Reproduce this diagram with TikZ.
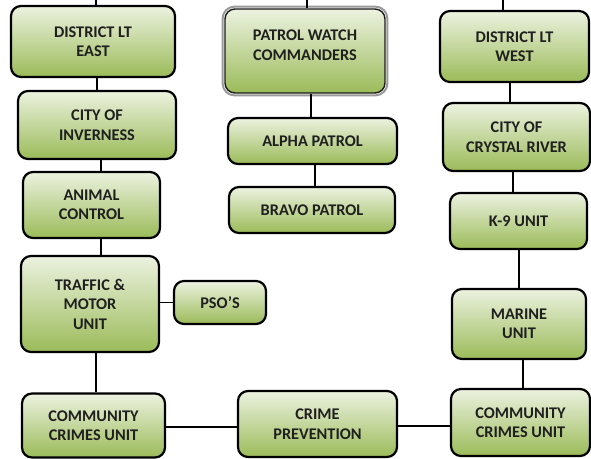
\documentclass[tikz,border=0pt]{standalone}
\usepackage{fontspec}
\setmainfont{Carlito}
\usetikzlibrary{calc}
\definecolor{gtop}{RGB}{236,242,224}
\definecolor{gbot}{RGB}{155,187,89}
\tikzset{
  unitbox/.style={draw=black, line width=2.2pt, rounded corners=10pt,
    top color=gtop, bottom color=gbot, align=center, inner sep=0pt,
    font=\fontsize{16.3}{19.5}\selectfont\bfseries, text=black!88},
  conn/.style={draw=black, line width=1.7pt},
  ptxt/.style={align=center, font=\fontsize{16.3}{19.5}\selectfont\bfseries, text=black!88}
}
\begin{document}
\begin{tikzpicture}[x=1pt,y=-1pt]
\useasboundingbox (0,0) rectangle (591,458);
% left column
\node[unitbox, minimum width=164, minimum height=71] (dle) at (93,41.5) {DISTRICT LT\\EAST};
\node[unitbox, minimum width=158, minimum height=68] (inv) at (97,125) {CITY OF\\INVERNESS};
\node[unitbox, minimum width=137, minimum height=66] (anim) at (91.5,205) {ANIMAL\\CONTROL};
\node[unitbox, minimum width=138, minimum height=96] (traf) at (90,304) {TRAFFIC \&\\MOTOR\\UNIT};
\node[unitbox, minimum width=92, minimum height=43] (pso) at (220,302.5) {PSO’S};
\node[unitbox, minimum width=143, minimum height=64] (ccl) at (93.5,425.5) {COMMUNITY\\CRIMES UNIT};
% middle column
\node[unitbox, line width=1.4pt, draw=black!90, minimum width=160, minimum height=84] (pcw) at (305,51) {};
\draw[draw=black!40, line width=2pt, rounded corners=12pt]
  ($(pcw.north west)+(-1.7,-1.7)$) rectangle ($(pcw.south east)+(1.7,1.7)$);
\node[ptxt] (pcwt) at ($(pcw.center)+(0,-6)$) {PATROL WATCH\\COMMANDERS};
\node[unitbox, minimum width=169, minimum height=46] (alpha) at (312.5,141) {ALPHA PATROL};
\node[unitbox, minimum width=166, minimum height=46] (bravo) at (312,210) {BRAVO PATROL};
\node[unitbox, minimum width=159, minimum height=66] (crime) at (317.5,424) {CRIME\\PREVENTION};
% right column
\node[unitbox, minimum width=149, minimum height=71] (dlw) at (514.5,46.5) {DISTRICT LT\\WEST};
\node[unitbox, minimum width=147, minimum height=68] (ccry) at (516.5,137) {CITY OF\\CRYSTAL RIVER};
\node[unitbox, minimum width=137, minimum height=56] (k9) at (518.5,221) {K-9 UNIT};
\node[unitbox, minimum width=134, minimum height=70] (mar) at (519,324) {MARINE\\UNIT};
\node[unitbox, minimum width=139, minimum height=67] (ccr) at (520.5,422.5) {COMMUNITY\\CRIMES UNIT};
% free ends at the top
\coordinate (t1) at (96,0);
\coordinate (t2) at (307,0);
\coordinate (t3) at (503,0);
% connectors
\draw[conn] (t1) -- (t1 |- dle.north);
\draw[conn] (t2) -- (t2 |- pcw.north);
\draw[conn] (t3) -- (t3 |- dlw.north);
\draw[conn] (dle.south -| inv.north) -- (inv.north);
\draw[conn] ($(inv.south)+(4,0)$) -- ($(anim.north)+(9.5,0)$);
\draw[conn] ($(anim.south)+(9.5,0)$) -- ($(traf.north)+(11,0)$);
\draw[conn] (traf.east |- pso.west) -- (pso.west);
\draw[conn] ($(traf.south)+(6,0)$) -- ($(ccl.north)+(2.5,0)$);
\draw[conn] (ccl.east |- 0,427) -- (crime.west |- 0,427);
\draw[conn] (crime.east |- 0,426) -- (ccr.west |- 0,426);
\draw[conn] ($(pcw.south)+(6,0)$) -- ($(alpha.north)+(-1.5,0)$);
\draw[conn] ($(alpha.south)+(2.5,0)$) -- ($(bravo.north)+(3,0)$);
\draw[conn] ($(dlw.south)+(-4.5,0)$) -- ($(ccry.north)+(-6.5,0)$);
\draw[conn] ($(ccry.south)+(-3.5,0)$) -- ($(k9.north)+(-5.5,0)$);
\draw[conn] ($(k9.south)+(0.5,0)$) -- (mar.north);
\draw[conn] ($(mar.south)+(4,0)$) -- ($(ccr.north)+(2.5,0)$);
\end{tikzpicture}
\end{document}
